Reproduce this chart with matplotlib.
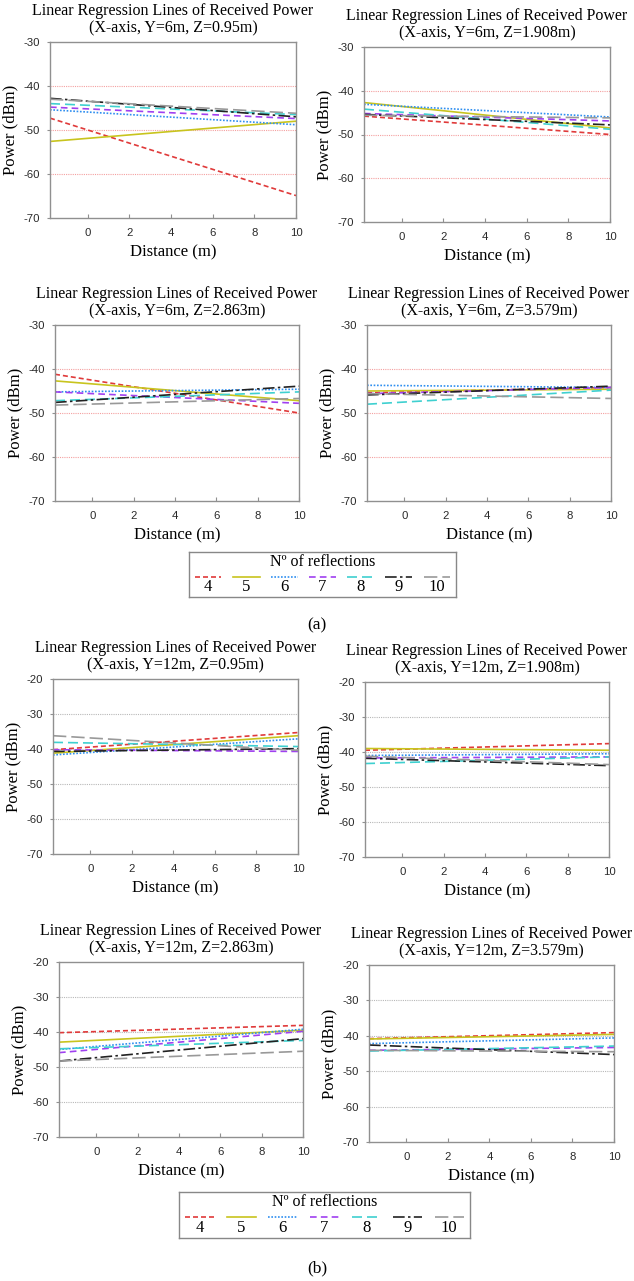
import matplotlib
matplotlib.use('Agg')
import matplotlib.pyplot as plt

plt.rcParams['axes.unicode_minus'] = False

W, H = 634, 1281

x_start = -1.8
x_end = 10

reflections = ['4', '5', '6', '7', '8', '9', '10']
colors = ['#e03a3a', '#c8c41e', '#2f8ff0', '#a040f0', '#3fd0d0', '#222222', '#999999']
styles = [(0, (3, 1.8)), '-', (0, (1, 1)), (0, (4, 2.5)), (0, (6, 3)),
          (0, (7, 2, 1.5, 2)), (0, (8, 3))]

titles = ['(X-axis, Y=6m, Z=0.95m)', '(X-axis, Y=6m, Z=1.908m)',
          '(X-axis, Y=6m, Z=2.863m)', '(X-axis, Y=6m, Z=3.579m)',
          '(X-axis, Y=12m, Z=0.95m)', '(X-axis, Y=12m, Z=1.908m)',
          '(X-axis, Y=12m, Z=2.863m)', '(X-axis, Y=12m, Z=3.579m)']

# regression line values at x_start and x_end, per panel, per reflection count
start_vals = [
    [-47.3, -52.6, -45.4, -44.8, -44.0, -42.8, -43.0],
    [-45.8, -42.7, -43.1, -45.2, -44.2, -45.4, -45.6],
    [-41.2, -42.7, -45.2, -45.2, -47.2, -47.6, -48.2],
    [-45.4, -45.0, -43.7, -45.6, -48.0, -45.9, -45.6],
    [-40.2, -41.2, -41.7, -40.2, -38.1, -40.7, -36.2],
    [-39.5, -39.0, -41.0, -41.7, -43.3, -41.8, -41.2],
    [-40.2, -42.9, -45.0, -45.9, -44.8, -48.3, -48.3],
    [-40.8, -40.9, -42.2, -44.1, -44.3, -42.6, -44.1],
]
end_vals = [
    [-64.9, -48.0, -48.8, -47.4, -46.5, -47.0, -46.2],
    [-50.0, -48.5, -46.0, -46.9, -48.8, -47.8, -46.2],
    [-50.0, -47.2, -44.6, -47.8, -45.2, -43.9, -46.7],
    [-44.2, -44.6, -44.2, -44.2, -44.8, -43.9, -46.7],
    [-35.3, -36.2, -37.1, -40.7, -39.3, -39.9, -40.4],
    [-37.6, -39.5, -40.5, -41.4, -41.4, -43.9, -43.6],
    [-38.1, -39.5, -39.2, -39.8, -42.4, -41.9, -45.5],
    [-39.1, -39.6, -40.6, -43.3, -42.9, -45.3, -44.5],
]

ymins = [-70] * 8
ymaxs = [-30, -30, -30, -30, -20, -20, -20, -20]

# axes boxes in pixels: left, top, right, bottom
boxes = [(50, 42, 296, 218), (364, 47, 610, 222),
         (55, 325, 299, 501), (367, 325, 611, 501),
         (53, 679, 298, 854), (365, 682, 609, 857),
         (59, 962, 303, 1137), (369, 965, 614, 1142)]

serif = 'Liberation Serif'
sans = 'Liberation Sans'

fig = plt.figure(figsize=(W / 100, H / 100), dpi=100)


def rect(l, t, r, b):
    return [l / W, 1 - b / H, (r - l) / W, (b - t) / H]


for k in range(8):
    ax = fig.add_axes(rect(*boxes[k]))
    for i in range(len(reflections)):
        ax.plot([x_start, x_end], [start_vals[k][i], end_vals[k][i]],
                color=colors[i], linestyle=styles[i], linewidth=1.2)
    ax.set_xlim(x_start, x_end)
    ax.set_ylim(ymins[k], ymaxs[k])
    ax.set_xticks([0, 2, 4, 6, 8, 10])
    ax.set_yticks(range(ymins[k], ymaxs[k] + 1, 10))
    gcol = '#f4a0a0' if k < 4 else '#b8b8b8'
    for yv in range(ymins[k] + 10, ymaxs[k], 10):
        ax.axhline(yv, color=gcol, linestyle=(0, (1, 1)), linewidth=0.8, zorder=0)
    for s in ax.spines.values():
        s.set_color('#909090')
        s.set_linewidth(1.0)
    ax.tick_params(axis='x', direction='in', length=3, color='#909090',
                   labelsize=8.2, labelcolor='#2a2a2a', pad=7)
    ax.tick_params(axis='y', direction='out', length=2, color='#909090',
                   labelsize=8.2, labelcolor='#2a2a2a', pad=5)
    for lab in ax.get_xticklabels() + ax.get_yticklabels():
        lab.set_fontfamily(sans)
    ax.set_title('Linear Regression Lines of Received Power\n' + titles[k],
                 fontfamily=serif, fontsize=11.5, linespacing=1.12, pad=7)
    ax.set_xlabel('Distance (m)', fontfamily=serif, fontsize=12, labelpad=5)
    ax.set_ylabel('Power (dBm)', fontfamily=serif, fontsize=12, labelpad=4)

# legends
leg_boxes = [(189, 552, 456, 597), (179, 1192, 470, 1238)]
for (l, t, r, b) in leg_boxes:
    lax = fig.add_axes(rect(l, t, r, b))
    lax.set_xlim(0, 1)
    lax.set_ylim(0, 1)
    lax.set_xticks([])
    lax.set_yticks([])
    for s in lax.spines.values():
        s.set_color('#888888')
        s.set_linewidth(1.0)
    lax.text(0.5, 0.95, 'N\u00ba of reflections', ha='center', va='top',
             fontfamily=serif, fontsize=11.5, transform=lax.transAxes)
    n = len(reflections)
    for i in range(n):
        cx = (i + 0.5) / n
        lax.plot([cx - 0.05, cx + 0.05], [0.45, 0.45], color=colors[i],
                 linestyle=styles[i], linewidth=1.2, transform=lax.transAxes)
        lax.text(cx, 0.04, reflections[i], ha='center', va='bottom',
                 fontfamily=serif, fontsize=12, transform=lax.transAxes)

fig.text(317 / W, 1 - 625 / H, '(a)', ha='center', va='center',
         fontfamily=serif, fontsize=12.5)
fig.text(317 / W, 1 - 1268 / H, '(b)', ha='center', va='center',
         fontfamily=serif, fontsize=12.5)

fig.savefig('out.png', dpi=100, facecolor='white')
